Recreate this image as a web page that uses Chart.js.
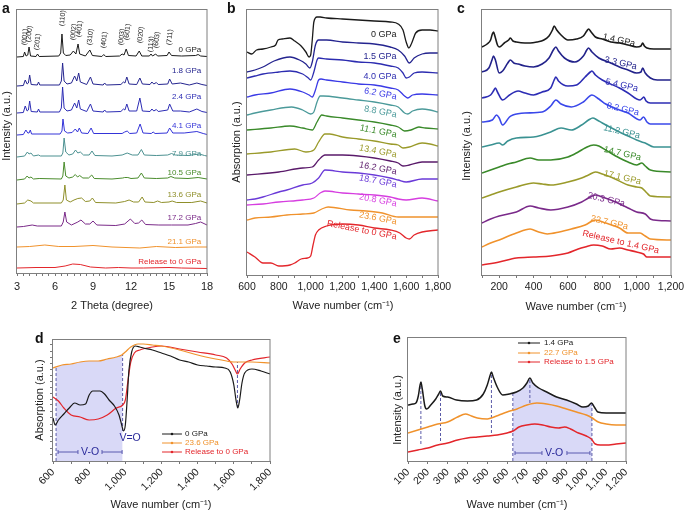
<!DOCTYPE html>
<html>
<head>
<meta charset="utf-8">
<script src="https://cdn.jsdelivr.net/npm/chart.js@4.4.0/dist/chart.umd.min.js"></script>
<style>
  body { margin: 0; background: #fff; }
  #wrap { position: relative; width: 685px; height: 511px; overflow: hidden; }
  canvas { position: absolute; }
</style>
</head>
<body>
<div id="wrap">
  <canvas id="chartA" width="225" height="318" style="left:0px;top:0px"></canvas>
  <canvas id="chartB" width="230" height="318" style="left:225px;top:0px"></canvas>
  <canvas id="chartC" width="230" height="318" style="left:455px;top:0px"></canvas>
  <canvas id="chartD" width="300" height="193" style="left:0px;top:318px"></canvas>
  <canvas id="chartE" width="305" height="193" style="left:380px;top:318px"></canvas>
</div>
<script>
// ---- panel a : XRD, [2theta, intensity a.u.] ----
const xrdNames = ['0 GPa', '1.8 GPa', '2.4 GPa', '4.1 GPa', '7.9 GPa', '10.5 GPa', '13.6 GPa', '17.2 GPa', '21.1 GPa', 'Release to 0 GPa'];
const xrd_0 = [[3,216],[3.5,216.5],[3.6,221],[3.72,217],[3.85,218],[3.95,226],[4.07,217],[4.5,216.5],[4.62,219],[4.75,216.5],[6.3,217],[6.45,220],[6.55,239],[6.66,220],[6.85,217.5],[7.2,218],[7.45,222],[7.65,219],[7.82,229],[7.95,219],[8.4,217],[8.75,223],[8.95,217.5],[9.7,216.5],[9.85,218.5],[10,216.5],[11.1,217],[11.3,219],[11.45,218],[11.62,224],[11.8,217.5],[12.4,217],[12.65,222],[12.85,217],[13.45,217],[13.58,219],[13.7,217],[13.95,219],[14.1,217],[14.85,217.5],[15,221],[15.2,217.5],[16,217],[17.1,217.5],[17.3,218.5],[17.5,217],[18,216.5]];
const xrd_1_8 = [[3,187],[3.5,187.5],[3.65,193],[3.8,189],[3.9,190],[4,198],[4.12,188.5],[4.6,188],[4.7,191],[4.8,188],[6.35,188],[6.5,192],[6.6,210],[6.72,192],[6.95,189],[7.3,190],[7.55,197],[7.72,192],[7.87,200],[8,191],[8.5,188.5],[8.8,196],[9,189],[9.8,188],[9.92,190],[10.05,188],[11.2,188.5],[11.4,191],[11.52,190],[11.67,196],[11.85,189],[12.45,188.5],[12.7,195],[12.9,189],[13.5,188.5],[13.65,191],[13.8,189],[14,190.5],[14.15,188.5],[14.9,189],[15.05,194],[15.25,189],[15.9,190],[16.6,188],[17.2,190],[17.6,188.5],[18,187.5]];
const xrd_2_4 = [[3,160],[3.5,160.5],[3.65,167],[3.8,162],[3.9,163],[4,172],[4.12,161.5],[4.6,161],[4.7,164],[4.8,161],[6.35,161],[6.5,165],[6.6,186],[6.72,165],[6.95,162],[7.3,163],[7.55,170],[7.72,165],[7.87,173],[8,164],[8.5,161.5],[8.8,169],[9,162],[9.8,161],[9.92,163],[10.05,161],[11.2,161.5],[11.4,164],[11.52,163],[11.67,169],[11.85,162],[12.45,162],[12.7,175],[12.9,162],[13.5,161.5],[13.65,164],[13.8,162],[14,163.5],[14.15,161.5],[14.9,163],[15.05,169],[15.3,162],[15.9,162],[16.6,161],[17.2,164],[17.6,161.5],[18,160.5]];
const xrd_4_1 = [[3,138],[3.5,138.5],[3.7,143],[3.85,140],[3.95,140],[4.05,143],[4.15,139],[6.4,139],[6.55,142],[6.63,154],[6.75,142],[7,140],[7.35,140.5],[7.6,144],[7.78,141],[7.92,145],[8.1,140],[8.6,139.5],[8.85,145],[9.05,139.5],[11.3,139.5],[11.5,141],[11.7,142],[11.9,139.5],[12.45,140],[12.72,149],[12.95,140],[13.6,139.5],[13.75,141],[13.9,139.5],[14.85,140],[15.05,145],[15.3,140],[16.2,140],[17.2,141.5],[17.7,139.5],[18,138.5]];
const xrd_7_9 = [[3,116],[3.6,117],[3.82,121],[3.95,119],[4.1,120],[4.3,117],[4.7,118],[4.85,117],[6.5,117],[6.62,120],[6.72,135],[6.85,121],[7.1,118],[7.4,119],[7.62,123],[7.8,120],[8,121],[8.25,118],[8.7,118],[8.92,122],[9.15,117.5],[10.5,117],[11.3,118],[11.7,120],[12.1,118],[12.55,118],[12.82,123.5],[13.05,118],[14,117.5],[14.9,118],[15.2,119.5],[15.5,118],[16.5,117.5],[17.4,119],[17.8,117.5],[18,117]];
const xrd_10_5 = [[3,93],[3.6,94],[3.8,97],[3.95,95],[4.1,96],[4.3,94],[4.75,94.5],[6.5,94],[6.62,97],[6.72,111],[6.85,97],[7.1,95],[7.4,96],[7.6,98.5],[7.78,96],[7.95,97.5],[8.2,95],[8.65,95],[8.9,98],[9.1,94.5],[10.5,94],[11.35,95],[11.5,95.5],[11.75,95.5],[12,94.5],[12.55,95],[12.82,100],[13.05,95],[14,94.5],[14.9,95],[15.15,96.5],[15.45,95],[16.5,94.5],[17.3,95.5],[18,94]];
const xrd_13_6 = [[3,69],[3.6,70],[3.85,73],[4.1,72],[4.3,70],[6.5,70],[6.65,73],[6.78,88],[6.9,73],[7.2,71],[7.5,73],[7.8,74.5],[8.1,75],[8.4,71.5],[8.75,72],[8.95,75],[9.2,70.5],[10.8,70],[11.5,71.5],[11.85,73],[12.2,71],[12.6,71],[12.88,76],[13.1,71],[13.8,70.5],[14.1,72],[14.4,70.5],[15,71],[15.25,72],[15.6,70.5],[16.8,70.5],[17.5,72],[18,70]];
const xrd_17_2 = [[3,46],[3.5,46.5],[4.2,48],[4.6,47],[6.5,47],[6.65,51],[6.78,61],[6.92,51],[7.3,48],[7.8,51],[8.05,53],[8.4,49],[8.75,49],[9,52],[9.3,48],[10.8,47.5],[11.5,49],[11.95,54],[12.3,49.5],[12.6,50],[12.85,53],[13.15,48.5],[14.2,48],[15.2,48],[16.5,48],[17.1,49.5],[17.5,51],[18,48]];
const xrd_21_1 = [[3,26],[4,26.5],[5.2,28],[6.3,26.5],[7.5,26.5],[9,27.5],[10.5,26],[12.7,25],[14,26.5],[15.5,25.5],[17,26],[18,26]];
const xrd_rel = [[3,5],[4.5,5.5],[6,5.5],[6.8,7],[7.4,9],[8,8.5],[8.8,6],[10,5],[11,5.5],[12,5],[13,5],[15,5.5],[16,5],[18,4.5]];
const xrdLabelY = [223, 202, 176, 147, 119, 100, 78, 55, 31, 11];
const xrdPeakNames = ['(001)', '(200)', '(201)', '(110)', '(002)', '(401)', '(310)', '(401)', '(003)', '(601)', '(020)', '(113)', '(603)', '(711)'];
const xrdPeakPos = [3.55, 3.9, 4.55, 6.53, 7.4, 7.87, 8.72, 9.82, 11.2, 11.65, 12.7, 13.52, 13.97, 15.0];
const xrdPeakTagY = [228, 231, 223, 247, 233, 236, 228, 225, 228, 233, 230, 221, 225, 228];
const xrdTicks = [3,3.5,4,4.5,5,5.5,6,6.5,7,7.5,8,8.5,9,9.5,10,10.5,11,11.5,12,12.5,13,13.5,14,14.5,15,15.5,16,16.5,17,17.5,18];

// ---- panel b : IR absorption, [wave number, a.u.] ----
const irNames = ['0 GPa', '1.5 GPa', '4.0 GPa', '6.2 GPa', '8.8 GPa', '11.1 GPa', '13.4 GPa', '16.2 GPa', '18.7 GPa', '20.8 GPa', '23.6 GPa', 'Release to 0 GPa'];
const ir_0 = [[600,223],[630,221],[660,225],[700,226],[750,228],[780,230],[795,235],[820,236],[870,237],[900,234],[940,229],[970,223],[990,218],[1000,220],[1010,235],[1020,253],[1040,258],[1060,258],[1100,257],[1200,256],[1300,255],[1400,254],[1500,253],[1550,251],[1580,245],[1600,233],[1617,227],[1635,232],[1660,242],[1700,245],[1750,245],[1800,244]];
const ir_1_5 = [[600,203],[650,205],[700,208],[770,214],[870,218],[930,215],[970,211],[995,207],[1010,213],[1030,230],[1050,235],[1100,235],[1200,233],[1300,232],[1400,231],[1500,228],[1550,225],[1590,219],[1620,212],[1650,217],[1700,221],[1750,222],[1800,222]];
const ir_4_0 = [[600,197],[650,199],[700,201],[800,203],[870,204],[950,201],[985,197],[1000,195],[1020,203],[1040,215],[1050,217],[1100,216],[1200,215],[1300,213],[1400,212],[1500,209],[1550,207],[1580,202],[1600,197],[1620,198],[1650,202],[1700,203],[1800,202]];
const ir_6_2 = [[600,178],[650,180],[750,182],[870,186],[950,183],[990,180],[1010,178],[1030,185],[1050,195],[1065,196],[1100,195],[1200,193],[1300,191],[1400,190],[1500,187],[1550,185],[1590,179],[1610,177],[1640,180],[1700,181],[1800,180]];
const ir_8_8 = [[600,160],[650,162],[750,165],[880,168],[950,165],[1000,161],[1020,163],[1040,173],[1060,179],[1080,179],[1200,177],[1300,175],[1400,173],[1500,170],[1550,168],[1590,162],[1610,161],[1640,164],[1700,166],[1750,165],[1800,163]];
const ir_11_1 = [[600,145],[750,147],[870,149],[950,147],[1010,145],[1040,153],[1070,160],[1100,159],[1200,157],[1300,155],[1400,153],[1500,150],[1550,148],[1590,144],[1630,145],[1680,148],[1720,147],[1800,146]];
const ir_13_4 = [[600,121],[750,123],[900,126],[970,123],[1020,125],[1050,133],[1090,141],[1120,141],[1200,138],[1300,136],[1400,134],[1500,131],[1550,130],[1580,127],[1620,128],[1700,132],[1750,131],[1800,129]];
const ir_16_2 = [[600,100],[800,103],[950,107],[1010,108],[1050,115],[1090,120],[1200,120],[1300,119],[1400,117],[1500,114],[1550,112],[1580,109],[1620,110],[1700,113],[1800,113]];
const ir_18_7 = [[600,75],[650,76],[700,78],[800,83],[850,85],[950,90],[1010,92],[1050,97],[1090,105],[1200,103],[1300,102],[1400,100],[1500,97],[1550,95],[1600,93],[1700,96],[1800,96]];
const ir_20_8 = [[600,70],[700,71],[800,73],[950,75],[1020,77],[1060,82],[1090,84],[1200,82],[1300,81],[1400,80],[1500,78],[1550,76],[1600,75],[1700,77],[1800,74]];
const ir_23_6 = [[600,55],[650,57],[750,58],[850,60],[950,61],[1020,62],[1070,66],[1110,68],[1250,65],[1350,64],[1450,62],[1550,58],[1650,58],[1800,58]];
const ir_rel = [[600,23],[650,18],[700,12],[750,12],[800,9],[870,10],[900,12],[940,16],[980,17],[1000,19],[1015,30],[1030,40],[1050,45],[1100,49],[1200,51],[1300,50],[1400,47],[1500,45],[1560,42],[1600,37],[1620,36],[1650,40],[1700,43],[1800,45]];
const irLabelY = [240, 218, 198, 178, 160, 140, 120, 103, 90, 71, 53, 38];
const irTicks = [600,700,800,900,1000,1100,1200,1300,1400,1500,1600,1700,1800];

// ---- panel c : Raman, [wave number, a.u.] ----
const ramanNames = ['1.4 GPa', '3.3 GPa', '5.4 GPa', '8.2 GPa', '11.2 GPa', '14.7 GPa', '17.1 GPa', '20.3 GPa', '22.7 GPa', 'Release to 1.4 GPa'];
const ra_1_4 = [[100,228],[130,231],[150,235],[160,241],[167,243],[175,239],[190,230],[200,228],[230,232],[255,235],[265,237],[280,234],[300,233],[350,232],[380,232],[420,233],[460,235],[490,239],[510,245],[520,249],[535,245],[560,240],[600,235],[650,236],[690,239],[710,244],[720,246],[735,243],[760,238],[800,236],[850,233],[900,232],[950,230],[1000,228],[1025,229],[1035,232],[1045,229],[1060,227],[1100,226],[1150,226],[1200,226]];
const ra_3_3 = [[100,203],[140,207],[158,215],[167,219],[178,215],[200,202],[220,204],[250,212],[265,215],[285,212],[310,211],[350,209],[400,208],[450,211],[490,217],[515,225],[530,228],[545,224],[580,217],[640,213],[690,219],[710,225],[720,227],[740,223],[780,217],[850,212],[900,208],[950,205],[1000,202],[1025,203],[1035,207],[1050,202],[1080,197],[1120,195],[1200,195]];
const ra_5_4 = [[100,177],[150,180],[170,185],[178,187],[190,183],[220,175],[260,180],[310,184],[350,182],[400,180],[450,183],[500,187],[520,195],[530,198],[545,194],[600,189],[650,190],[700,198],[730,203],[740,204],[760,200],[800,195],[900,187],[950,182],[1020,175],[1035,177],[1042,178],[1055,174],[1080,172],[1200,172]];
const ra_8_2 = [[100,153],[160,155],[185,160],[200,157],[220,150],[260,158],[280,160],[350,162],[450,163],[500,169],[530,175],[560,171],[620,168],[690,173],[740,180],[780,176],[820,171],[900,165],[950,162],[1020,155],[1040,158],[1060,153],[1080,151],[1200,151]];
const ra_11_2 = [[100,128],[150,130],[200,132],[220,130],[250,134],[300,137],[400,138],[450,140],[500,143],[560,147],[620,145],[680,150],[720,155],[745,157],[770,155],[800,152],[900,143],[950,139],[1000,135],[1030,133],[1050,132],[1100,128],[1200,128]];
const ra_14_7 = [[100,102],[150,105],[200,108],[250,111],[300,113],[380,117],[430,115],[500,115],[600,118],[660,123],[700,127],[750,130],[780,129],[820,125],[900,117],[950,113],[1000,110],[1030,112],[1050,109],[1080,105],[1200,103]];
const ra_17_1 = [[100,77],[150,80],[200,83],[300,88],[400,92],[450,91],[500,90],[600,93],[680,97],[720,100],[760,103],[800,101],[850,98],[950,90],[1000,88],[1030,87],[1060,82],[1080,79],[1200,78]];
const ra_20_3 = [[100,52],[150,56],[200,59],[300,63],[380,69],[430,67],[500,65],[600,68],[680,73],[720,77],[760,80],[800,78],[850,75],[950,67],[1000,63],[1050,61],[1080,56],[1100,55],[1200,54]];
const ra_22_7 = [[100,28],[150,32],[200,35],[300,42],[380,46],[430,43],[480,41],[550,43],[620,46],[700,50],[760,55],[820,52],[900,47],[950,42],[1020,42],[1050,39],[1080,36],[1200,35]];
const ra_rel = [[100,10],[200,13],[300,17],[400,18],[500,19],[600,22],[660,26],[700,28],[750,30],[800,29],[850,26],[900,27],[950,25],[1000,23],[1040,21],[1060,18],[1100,18],[1200,18]];
const ramanLabelX = [990, 1001, 1007, 1013, 1019, 1025, 1025, 931, 949, 1130];
const ramanLabelY = [231, 208, 186, 162, 139, 117, 93, 71, 48, 24];
const ramanTicks = [100,200,300,400,500,600,700,800,900,1000,1100,1200];

// ---- panel d : IR comparison ----
const irCmpNames = ['0 GPa', '23.6 GPa', 'Release to 0 GPa'];
const irc_0 = [[600,43],[612,36],[630,41],[660,47],[690,53],[720,58],[750,56],[780,57],[800,66],[820,70],[860,70],[885,67],[910,61],[940,55],[965,46],[980,36],[990,30],[1000,36],[1010,61],[1020,91],[1035,109],[1055,115],[1080,114],[1100,113],[1150,111],[1200,108],[1250,105],[1300,101],[1350,99],[1400,96],[1450,95],[1500,94],[1550,93],[1580,89],[1600,76],[1612,61],[1622,53],[1632,61],[1645,78],[1660,88],[1700,92],[1750,90],[1800,87]];
const irc_23_6 = [[600,93],[650,96],[700,97],[750,99],[800,100],[850,100],[900,102],[950,104],[980,106],[1000,109],[1030,114],[1070,117],[1100,117],[1150,116],[1200,115],[1300,111],[1400,106],[1500,102],[1560,100],[1600,99],[1620,99],[1700,99],[1800,98]];
const irc_rel = [[600,64],[630,60],[660,53],[700,46],[750,44],[800,41],[850,42],[900,46],[950,53],[985,56],[1000,61],[1015,81],[1030,99],[1050,108],[1080,111],[1150,114],[1200,115],[1300,112],[1400,109],[1500,106],[1560,103],[1590,97],[1610,90],[1620,87],[1635,92],[1660,98],[1700,101],[1800,104]];
const ircShade = [[617,94],[650,96],[700,97],[750,99],[800,100],[850,100],[900,102],[950,104],[985,106]];
const ircDash = [[617, 0, 94], [985, 30, 106], [1620, 53, 99]];
const ircYTicks = [7,13,19,25,31,37,44,50,56,62,68,74,80,86,92,98,104,110,117];

// ---- panel e : Raman comparison ----
const raCmpNames = ['1.4 GPa', '22.7 GPa', 'Release to 1.5 GPa'];
const rac_1_4 = [[100,56],[125,57],[140,58],[152,65],[160,75],[165,79],[172,72],[185,55],[194,52],[215,56],[240,62],[255,67],[264,70],[275,65],[300,64],[345,61],[400,60],[446,61],[480,67],[500,76],[512,84],[521,89],[530,84],[550,74],[578,66],[610,67],[647,69],[680,73],[700,78],[715,83],[730,78],[760,73],[800,69],[850,64],[900,61],[950,57],[983,54],[1010,55],[1026,58],[1040,54],[1058,49],[1100,48],[1150,48],[1200,48]];
const rac_22_7 = [[100,28],[150,31],[200,34],[250,37],[300,39],[350,44],[390,47],[420,45],[450,43],[500,42],[520,43],[560,46],[600,49],[650,52],[700,56],[750,58],[800,57],[850,55],[900,52],[950,49],[1000,46],[1030,43],[1060,39],[1100,37],[1150,36],[1200,36]];
const rac_rel = [[100,9],[150,11],[200,13],[250,16],[300,18],[350,21],[400,23],[450,24],[500,25],[550,26],[600,28],[630,30],[660,34],[700,36],[740,37],[780,36],[820,34],[860,33],[890,34],[920,32],[960,28],[1000,25],[1025,22],[1045,17],[1070,16],[1100,16],[1150,17],[1200,18]];
const racShade = [[629,67],[647,69],[680,73],[700,78],[715,83],[730,78],[760,73],[800,69],[850,64],[900,61],[950,57],[983,54],[1010,55],[1028,58]];
const racDash = [[165, 17, 79], [264, 20, 70], [521, 28, 89], [629, 0, 67], [715, 58, 83], [1028, 0, 58]];

// colours
const xrdColors = ['#1a1a1a', '#24248f', '#2c2cb4', '#3434d8', '#4b9090', '#4a8c2c', '#8f8f2a', '#7a2a88', '#f0922c', '#e3262b'];
const irColors = ['#1a1a1a', '#24248f', '#2c2cb0', '#3a3ae6', '#4b9a9a', '#3a8a2a', '#9a9a2a', '#5a1a6a', '#6a3ad8', '#d63ee0', '#f0922c', '#e3262b'];
const ramanColors = ['#1a1a1a', '#22228a', '#2c2cb4', '#3a48ea', '#3a9292', '#3a8a2a', '#9a9a2a', '#7a2a8a', '#f0922c', '#e3262b'];
const cmpColors = ['#1a1a1a', '#f0922c', '#e3262b'];
const FONT = '"Liberation Sans", Arial, Helvetica, sans-serif';
const DASH = '#5a5aa8';
const SHADE = 'rgba(185, 185, 240, 0.55)';

const fmt = v => v.toLocaleString('en-US');

const framePlugin = {
  id: 'frame',
  afterDraw(chart) {
    const { ctx, chartArea: a } = chart;
    ctx.save();
    ctx.strokeStyle = '#7f7f7f';
    ctx.lineWidth = 1;
    ctx.strokeRect(a.left - 0.5, a.top + 0.5, a.right - a.left + 0.5, a.bottom - a.top);
    ctx.restore();
  }
};

// texts and little line segments, given in data units, or page pixels when page:true
function notesPlugin(notes, segs) {
  return {
    id: 'notes',
    afterDraw(chart) {
      const ctx = chart.ctx;
      const sx = chart.scales.x, sy = chart.scales.y;
      const offX = parseInt(chart.canvas.style.left), offY = parseInt(chart.canvas.style.top);
      (segs || []).forEach(s => {
        const x1 = sx.getPixelForValue(s.x1), x2 = sx.getPixelForValue(s.x2), y = sy.getPixelForValue(s.y);
        ctx.save();
        ctx.strokeStyle = s.color;
        ctx.fillStyle = s.color;
        ctx.lineWidth = 1;
        ctx.beginPath();
        ctx.moveTo(x1, y);
        ctx.lineTo(x2, y);
        ctx.stroke();
        if (s.dot) {
          ctx.beginPath();
          ctx.arc((x1 + x2) / 2, y, 1.3, 0, Math.PI * 2);
          ctx.fill();
        }
        if (s.cap) {
          [x1, x2].forEach(xx => { ctx.beginPath(); ctx.moveTo(xx, y - 2); ctx.lineTo(xx, y + 2); ctx.stroke(); });
        }
        ctx.restore();
      });
      notes.forEach(n => {
        const px = n.page ? n.x - offX : sx.getPixelForValue(n.x);
        const py = n.page ? n.y - offY : sy.getPixelForValue(n.y);
        ctx.save();
        ctx.translate(px, py);
        if (n.rot) ctx.rotate(n.rot * Math.PI / 180);
        ctx.font = (n.bold ? 'bold ' : '') + n.size + 'px ' + FONT;
        ctx.fillStyle = n.color || '#222';
        ctx.textAlign = n.align || 'center';
        ctx.textBaseline = n.base || 'middle';
        ctx.fillText(n.t, 0, 0);
        ctx.restore();
      });
    }
  };
}

function line(data, color, width, smooth) {
  return {
    data: data, borderColor: color, borderWidth: width, pointRadius: 0, fill: false,
    tension: 0, cubicInterpolationMode: smooth ? 'monotone' : 'default', order: 1
  };
}

function makeChart(id, o) {
  return new Chart(document.getElementById(id), {
    type: 'line',
    data: { datasets: o.datasets },
    options: {
      responsive: false,
      animation: false,
      devicePixelRatio: 1,
      layout: { autoPadding: false, padding: { top: o.top, right: o.right, left: 0, bottom: 0 } },
      plugins: { legend: { display: false }, tooltip: { enabled: false } },
      scales: {
        x: {
          type: 'linear', min: o.xmin, max: o.xmax,
          afterBuildTicks: s => { s.ticks = o.xticks.map(v => ({ value: v })); },
          afterFit: s => { s.height = o.xh; s.paddingLeft = 0; s.paddingRight = 0; },
          border: { display: false },
          grid: { drawOnChartArea: false, tickLength: 3, color: '#777' },
          ticks: {
            autoSkip: false, maxRotation: o.rot || 0, minRotation: o.rot || 0, padding: o.tpad || 3,
            color: '#222', font: { family: FONT, size: o.tsize || 10.5 },
            callback: v => (o.major(v) ? fmt(v) : '')
          }
        },
        y: {
          type: 'linear', min: 0, max: o.ymax,
          afterBuildTicks: s => { s.ticks = (o.yticks || []).map(v => ({ value: v })); },
          afterFit: s => { s.width = o.yw; s.paddingTop = 0; s.paddingBottom = 0; },
          border: { display: false },
          grid: { display: !!o.yticks, drawOnChartArea: false, tickLength: 3, color: '#777' },
          ticks: { display: false }
        }
      }
    },
    plugins: [framePlugin, notesPlugin(o.notes, o.segs)]
  });
}

document.addEventListener('DOMContentLoaded', function () {
  // ---------- a ----------
  const xrdSeries = [xrd_0, xrd_1_8, xrd_2_4, xrd_4_1, xrd_7_9, xrd_10_5, xrd_13_6, xrd_17_2, xrd_21_1, xrd_rel];
  const notesA = [
    { t: 'a', x: 2, y: 13, page: true, size: 14, bold: true, color: '#111', align: 'left', base: 'alphabetic' },
    { t: 'Intensity (a.u.)', x: 7, y: 126, page: true, size: 11, rot: -90 },
    { t: '2 Theta (degree)', x: 112, y: 306, page: true, size: 11 }
  ];
  xrdNames.forEach((n, i) => notesA.push({ t: n, x: 17.55, y: xrdLabelY[i], size: 8, color: xrdColors[i], align: 'right' }));
  xrdPeakNames.forEach((n, i) => notesA.push({ t: n, x: xrdPeakPos[i], y: xrdPeakTagY[i], size: 7, color: '#222', align: 'left', rot: -84 }));
  makeChart('chartA', {
    datasets: xrdSeries.map((d, i) => line(d, xrdColors[i], 1, false)),
    xmin: 3, xmax: 18, xticks: xrdTicks, major: v => v % 3 === 0, tsize: 11, tpad: 4,
    ymax: 264, top: 9, right: 18, yw: 17, xh: 45, notes: notesA
  });

  // ---------- b ----------
  const irSeries = [ir_0, ir_1_5, ir_4_0, ir_6_2, ir_8_8, ir_11_1, ir_13_4, ir_16_2, ir_18_7, ir_20_8, ir_23_6, ir_rel];
  const notesB = [
    { t: 'b', x: 227, y: 13, page: true, size: 14, bold: true, color: '#111', align: 'left', base: 'alphabetic' },
    { t: 'Absorption (a.u.)', x: 237, y: 142, page: true, size: 11, rot: -90 },
    { t: 'Wave number (cm\u207B\u00B9)', x: 343, y: 306, page: true, size: 11 }
  ];
  irNames.forEach((n, i) => notesB.push({ t: n, x: 1540, y: irLabelY[i], size: 9, color: irColors[i], align: 'right', rot: i < 3 ? 0 : 11 }));
  makeChart('chartB', {
    datasets: irSeries.map((d, i) => line(d, irColors[i], 1.3, true)),
    xmin: 600, xmax: 1800, xticks: irTicks, major: v => v % 200 === 0,
    ymax: 266, top: 9, right: 17, yw: 22, xh: 43, notes: notesB
  });

  // ---------- c ----------
  const ramanSeries = [ra_1_4, ra_3_3, ra_5_4, ra_8_2, ra_11_2, ra_14_7, ra_17_1, ra_20_3, ra_22_7, ra_rel];
  const notesC = [
    { t: 'c', x: 457, y: 13, page: true, size: 14, bold: true, color: '#111', align: 'left', base: 'alphabetic' },
    { t: 'Intensity (a.u.)', x: 467, y: 146, page: true, size: 11, rot: -90 },
    { t: 'Wave number (cm\u207B\u00B9)', x: 576, y: 307, page: true, size: 11 }
  ];
  ramanNames.forEach((n, i) => notesC.push({ t: n, x: ramanLabelX[i], y: ramanLabelY[i], size: 9, color: ramanColors[i], align: 'right', rot: 13 }));
  makeChart('chartC', {
    datasets: ramanSeries.map((d, i) => line(d, ramanColors[i], 1.6, true)),
    xmin: 100, xmax: 1200, xticks: ramanTicks, major: v => v % 200 === 0,
    ymax: 266, top: 9, right: 14, yw: 27, xh: 43, notes: notesC
  });

  // ---------- d ----------
  const ircSeries = [irc_0, irc_23_6, irc_rel];
  const setsD = ircSeries.map((d, i) => line(d, cmpColors[i], 1.2, true));
  ircDash.forEach(d => setsD.push({ data: [[d[0], d[1]], [d[0], d[2]]], borderColor: DASH, borderWidth: 1, borderDash: [3, 2], pointRadius: 0, order: 2 }));
  setsD.push({ data: ircShade, borderWidth: 0, pointRadius: 0, fill: 'start', backgroundColor: SHADE, cubicInterpolationMode: 'monotone', order: 5 });
  const notesD = [
    { t: 'd', x: 35, y: 343, page: true, size: 14, bold: true, color: '#111', align: 'left', base: 'alphabetic' },
    { t: 'Absorption (a.u.)', x: 40, y: 400, page: true, size: 11, rot: -90 },
    { t: 'Wave number (cm\u207B\u00B9)', x: 161, y: 505, page: true, size: 11 },
    { t: 'V=O', x: 1026, y: 23, size: 10.5, color: '#2a2a9a' },
    { t: 'V-O', x: 805, y: 9, size: 10.5, color: '#2a2a9a' }
  ];
  const legYD = [27, 18, 9];
  irCmpNames.forEach((n, i) => notesD.push({ t: n, x: 1330, y: legYD[i], size: 8, color: cmpColors[i], align: 'left' }));
  const segsD = legYD.map((y, i) => ({ x1: 1203, x2: 1313, y: y, color: cmpColors[i], dot: true }));
  segsD.push({ x1: 628, x2: 738, y: 9, color: '#5a5ab0', cap: true }, { x1: 871, x2: 982, y: 9, color: '#5a5ab0', cap: true });
  makeChart('chartD', {
    datasets: setsD,
    xmin: 600, xmax: 1800, xticks: irTicks, major: v => v % 200 === 0, rot: 45, tpad: 2,
    ymax: 122, yticks: ircYTicks, top: 21, right: 30, yw: 53, xh: 50, notes: notesD, segs: segsD
  });

  // ---------- e ----------
  const racSeries = [rac_1_4, rac_22_7, rac_rel];
  const setsE = racSeries.map((d, i) => line(d, cmpColors[i], 1.5, true));
  racDash.forEach(d => setsE.push({ data: [[d[0], d[1]], [d[0], d[2]]], borderColor: DASH, borderWidth: 1, borderDash: [3, 2], pointRadius: 0, order: 2 }));
  setsE.push({ data: racShade, borderWidth: 0, pointRadius: 0, fill: 'start', backgroundColor: SHADE, cubicInterpolationMode: 'monotone', order: 5 });
  const notesE = [
    { t: 'e', x: 393, y: 343, page: true, size: 14, bold: true, color: '#111', align: 'left', base: 'alphabetic' },
    { t: 'Intensity (a.u.)', x: 398, y: 410, page: true, size: 11, rot: -90 },
    { t: 'Wave number (cm\u207B\u00B9)', x: 517, y: 505, page: true, size: 11 },
    { t: 'V-O', x: 837, y: 8, size: 10.5, color: '#2a2a9a' }
  ];
  const legYE = [118, 108, 99];
  raCmpNames.forEach((n, i) => notesE.push({ t: n, x: 786, y: legYE[i], size: 8, color: cmpColors[i], align: 'left' }));
  const segsE = legYE.map((y, i) => ({ x1: 655, x2: 766, y: y, color: cmpColors[i], dot: true }));
  segsE.push({ x1: 640, x2: 776, y: 8, color: '#5a5ab0', cap: true }, { x1: 902, x2: 1018, y: 8, color: '#5a5ab0', cap: true });
  makeChart('chartE', {
    datasets: setsE,
    xmin: 100, xmax: 1200, xticks: ramanTicks, major: v => true, rot: 45, tpad: 2,
    ymax: 124, top: 19, right: 59, yw: 28, xh: 50, notes: notesE, segs: segsE
  });
});
</script>
</body>
</html>
